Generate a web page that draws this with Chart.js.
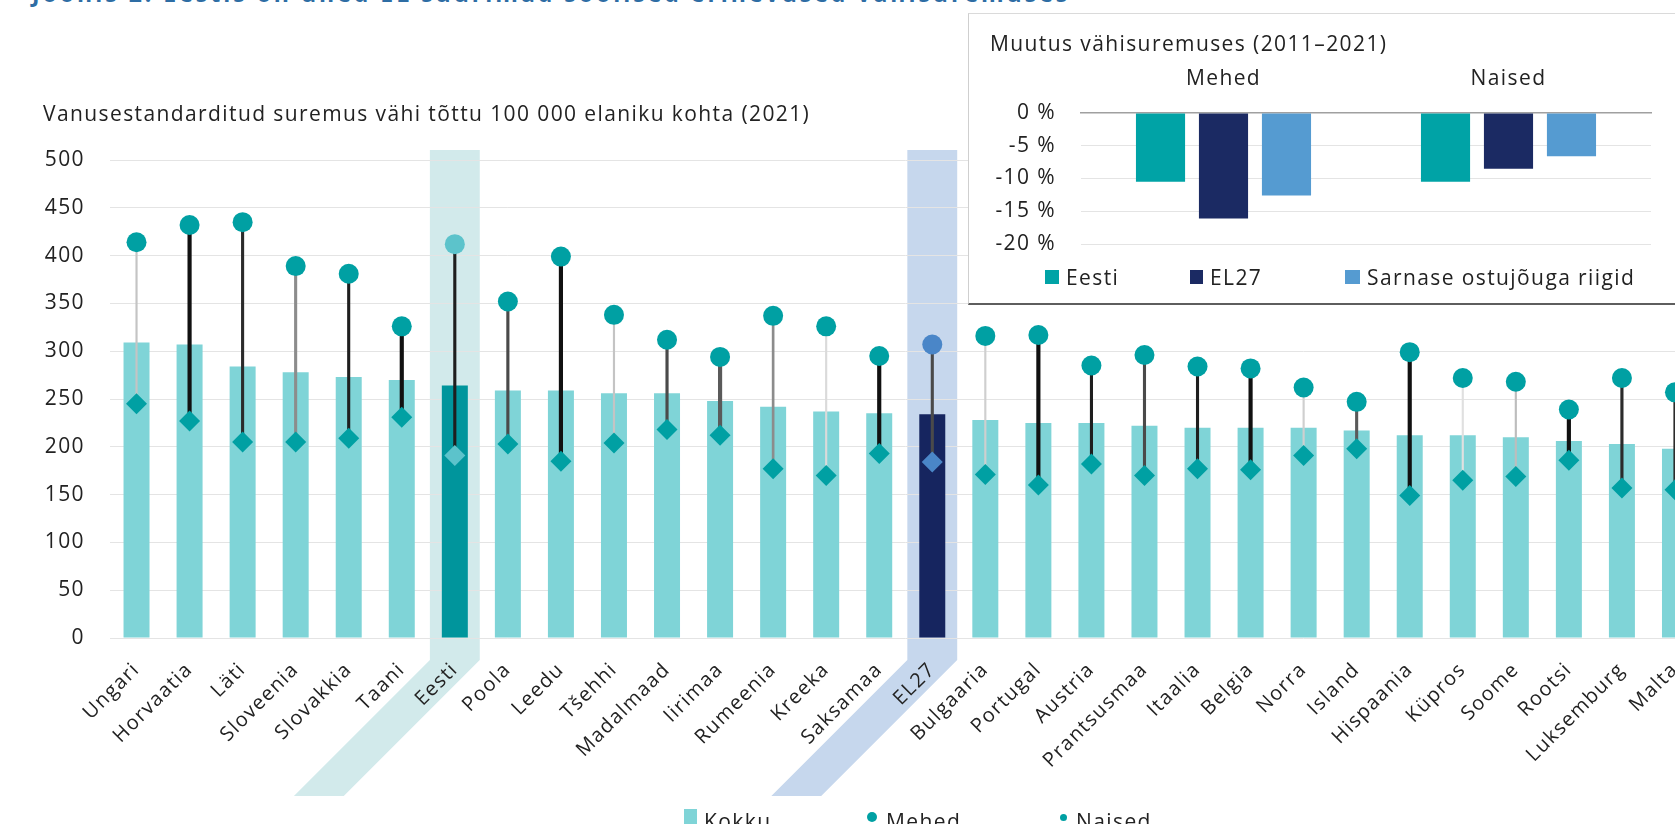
<!DOCTYPE html>
<html lang="et">
<head>
<meta charset="utf-8">
<title>Vähisuremus</title>
<script src="https://cdn.jsdelivr.net/npm/chart.js@4.4.0/dist/chart.umd.min.js"></script>
<style>
  html, body { margin: 0; padding: 0; background: #fff; overflow: hidden; }
  body { width: 1675px; height: 824px; position: relative; font-family: "Open Sans", sans-serif; }
  #pealkiri { position: absolute; left: 32px; top: -17px; font-size: 23px; line-height: 20px; font-weight: bold; color: #2e6da4; letter-spacing: 3px; white-space: nowrap; }
  #pohi { position: absolute; left: 0; top: 0; }
  #kast { position: absolute; left: 968px; top: 13px; width: 730px; height: 289px; background: #fff;
          border-left: 1px solid #cfcfcf; border-top: 1px solid #dadada; border-bottom: 2px solid #5e5e5e; }
  #kast canvas { position: absolute; left: 0; top: 0; }
  .legend { position: absolute; font-size: 21px; letter-spacing: 1.4px; color: #222; white-space: nowrap; }
  .legend span.mark { position: absolute; }
</style>
</head>
<body>
<div id="pealkiri">Joonis 2. Eestis on ühed EL suurimad soolised erinevused vähisuremuses</div>
<canvas id="pohi" width="1712" height="824"></canvas>
<div id="kast">
  <canvas id="muutus" width="730" height="289"></canvas>
</div>
<div id="legendid"></div>

<script>
// Vanusestandarditud suremus vähi tõttu 100 000 elaniku kohta (2021)
const maad = ['Ungari', 'Horvaatia', 'Läti', 'Sloveenia', 'Slovakkia', 'Taani', 'Eesti', 'Poola', 'Leedu', 'Tšehhi',
  'Madalmaad', 'Iirimaa', 'Rumeenia', 'Kreeka', 'Saksamaa', 'EL27', 'Bulgaaria', 'Portugal', 'Austria', 'Prantsusmaa',
  'Itaalia', 'Belgia', 'Norra', 'Island', 'Hispaania', 'Küpros', 'Soome', 'Rootsi', 'Luksemburg', 'Malta'];
const kokku = [309, 307, 284, 278, 273, 270, 264, 259, 259, 256, 256, 248, 242, 237, 235, 234, 228, 225, 225, 222,
  220, 220, 220, 217, 212, 212, 210, 206, 203, 198];
const mehed = [414, 432, 435, 389, 381, 326, 412, 352, 399, 338, 312, 294, 337, 326, 295, 307, 316, 317, 285, 296,
  284, 282, 262, 247, 299, 272, 268, 239, 272, 257];
const naised = [245, 227, 205, 205, 209, 231, 191, 203, 185, 204, 218, 212, 177, 170, 193, 184, 171, 160, 182, 170,
  177, 176, 191, 198, 149, 165, 169, 186, 157, 155];
const yTicks = [0, 50, 100, 150, 200, 250, 300, 350, 400, 450, 500];

// Muutus vähisuremuses (2011–2021), %
const muutusRuhmad = ['Mehed', 'Naised'];
const muutusEesti = [-10.5, -10.5];
const muutusEL27 = [-16.1, -8.5];
const muutusSarnased = [-12.6, -6.6];
const muutusTicks = [0, -5, -10, -15, -20];

// ühendusjoonte toon ja paksus (stiil, mitte andmed)
const jooneToon = ['#c4c4c4', '#111', '#2b2b2b', '#8c8c8c', '#1e1e1e', '#111', '#1e1e1e', '#4a4a4a', '#111', '#c4c4c4',
  '#4a4a4a', '#5a5a5a', '#8c8c8c', '#dadada', '#111', '#4a4a4a', '#cfcfcf', '#111', '#1e1e1e', '#4a4a4a',
  '#1e1e1e', '#111', '#cfcfcf', '#5a5a5a', '#111', '#e0e0e0', '#bdbdbd', '#111', '#2b2b2b', '#2b2b2b'];
const joonePaksus = [1.5, 3.5, 2.5, 2.5, 2.5, 3.5, 2.5, 2.5, 3.5, 1.5, 2.5, 3.5, 2, 1.5, 3.5, 2.5, 1.5, 3.5, 2.5, 2.5,
  2.5, 3.5, 1.5, 2.5, 3.5, 1.5, 1.5, 3.5, 2.5, 2.5];

const FONT = '"Open Sans", sans-serif';
const iEesti = maad.indexOf('Eesti');
const iEL = maad.indexOf('EL27');

const tulbaVarv = maad.map((m, i) => i === iEesti ? '#00959c' : (i === iEL ? '#16255f' : '#7fd4d7'));
const markeriVarv = maad.map((m, i) => i === iEesti ? '#5cc3cb' : (i === iEL ? '#4a86c8' : '#00a0a3'));

// tähevahe, et kiri oleks sama lai kui originaalis
const tahevahe = {
  id: 'tahevahe',
  beforeUpdate(chart) { chart.ctx.letterSpacing = '1.4px'; },
  beforeDraw(chart) { chart.ctx.letterSpacing = '1.4px'; }
};

// Eesti ja EL27 esiletõstmise ribad (ulatuvad allapoole kaldu nagu sildid)
const ribad = {
  id: 'ribad',
  beforeDraw(chart) {
    const x = chart.scales.x;
    const area = chart.chartArea;
    const ctx = chart.ctx;
    const samm = x.getPixelForValue(1) - x.getPixelForValue(0);
    const pool = samm * 0.47;
    const ylal = area.top - 10;
    const murd = area.bottom + 22;
    const kald = 136;
    [[iEesti, '#d2eaeb'], [iEL, '#c6d7ed']].forEach(([i, varv]) => {
      const c = x.getPixelForValue(i);
      ctx.save();
      ctx.fillStyle = varv;
      ctx.beginPath();
      ctx.moveTo(c - pool, ylal);
      ctx.lineTo(c + pool, ylal);
      ctx.lineTo(c + pool, murd);
      ctx.lineTo(c + pool - kald, murd + kald);
      ctx.lineTo(c - pool - kald, murd + kald);
      ctx.lineTo(c - pool, murd);
      ctx.closePath();
      ctx.fill();
      ctx.restore();
    });
  }
};

new Chart(document.getElementById('pohi'), {
  data: {
    labels: maad,
    datasets: [
      {
        type: 'line', label: 'Mehed', data: mehed, showLine: false, order: 0,
        pointStyle: 'circle', pointRadius: 10, pointHoverRadius: 10, borderWidth: 0,
        pointBackgroundColor: markeriVarv, pointBorderColor: markeriVarv
      },
      {
        type: 'line', label: 'Naised', data: naised, showLine: false, order: 0,
        pointStyle: 'rectRot', pointRadius: 10.5, pointHoverRadius: 10.5, borderWidth: 0,
        pointBackgroundColor: markeriVarv, pointBorderColor: markeriVarv
      },
      {
        type: 'bar', label: 'vahe', data: naised.map((n, i) => [n, mehed[i]]), order: 1,
        grouped: false, barThickness: 3.5, backgroundColor: jooneToon,
        borderColor: 'rgba(0,0,0,0)', borderSkipped: false,
        borderWidth: ctx => { const b = (3.5 - joonePaksus[ctx.dataIndex]) / 2; return { left: b, right: b, top: 0, bottom: 0 }; }
      },
      {
        type: 'bar', label: 'Kokku', data: kokku, order: 2, grouped: false,
        backgroundColor: tulbaVarv, barPercentage: 0.49, categoryPercentage: 1
      }
    ]
  },
  options: {
    responsive: false,
    animation: false,
    events: [],
    layout: { padding: { left: 43, right: 9, top: 0, bottom: 0 } },
    plugins: {
      legend: { display: false },
      tooltip: { enabled: false },
      title: {
        display: true, align: 'start', color: '#222',
        text: 'Vanusestandarditud suremus vähi tõttu 100 000 elaniku kohta (2021)',
        font: { family: FONT, size: 21, weight: 'normal' },
        padding: { top: 102.4, bottom: 32.4 }
      }
    },
    scales: {
      x: {
        offset: true,
        grid: { display: false },
        border: { display: false },
        ticks: {
          autoSkip: false, minRotation: 45, maxRotation: 45, padding: 12,
          color: '#222', font: { family: FONT, size: 20 }
        },
        afterFit(s) { s.height = 186; }
      },
      y: {
        min: 0, max: 500,
        afterBuildTicks(s) { s.ticks = yTicks.map(v => ({ value: v })); },
        grid: { color: '#e4e4e4', drawTicks: false },
        border: { display: false },
        ticks: { padding: 25, color: '#222', font: { family: FONT, size: 21 } },
        afterFit(s) { s.width = 67; }
      }
    }
  },
  plugins: [tahevahe, ribad]
});

new Chart(document.getElementById('muutus'), {
  type: 'bar',
  data: {
    labels: muutusRuhmad,
    datasets: [
      { label: 'Eesti', data: muutusEesti, backgroundColor: '#00a3a6' },
      { label: 'EL27', data: muutusEL27, backgroundColor: '#1b2a63' },
      { label: 'Sarnase ostujõuga riigid', data: muutusSarnased, backgroundColor: '#559bd1' }
    ]
  },
  options: {
    responsive: false,
    animation: false,
    events: [],
    layout: { padding: { left: 21, right: 48, top: 0, bottom: 59 } },
    datasets: { bar: { categoryPercentage: 0.663, barPercentage: 0.78 } },
    plugins: {
      legend: { display: false },
      tooltip: { enabled: false },
      title: {
        display: true, align: 'start', color: '#222',
        text: 'Muutus vähisuremuses (2011–2021)',
        font: { family: FONT, size: 21, weight: 'normal' },
        padding: { top: 18.4, bottom: 2 }
      }
    },
    scales: {
      x: {
        position: 'top',
        grid: { display: false },
        border: { display: true, color: '#a0a0a0', width: 1.5 },
        ticks: { padding: 13, color: '#222', font: { family: FONT, size: 21 } },
        afterFit(s) { s.height = 53.4; }
      },
      y: {
        min: -20, max: 0,
        afterBuildTicks(s) { s.ticks = muutusTicks.map(v => ({ value: v })); },
        grid: { color: ctx => ctx.tick && ctx.tick.value === 0 ? 'rgba(0,0,0,0)' : '#e4e4e4', drawTicks: false },
        border: { display: false },
        ticks: { padding: 25, color: '#222', font: { family: FONT, size: 21 }, callback: v => v + ' %' },
        afterFit(s) { s.width = 91; }
      }
    }
  },
  plugins: [tahevahe]
});

// legendid HTML-is: [vasak, märgi keskjoon, teksti nihe, tekst, märgi laius, märgi kõrgus, ümar, värv]
const legendid = [
  [684, 817, 4, 'Kokku', 13, 16, false, '#7fd4d7'],
  [867, 817, 4, 'Mehed', 10, 10, true, '#00a0a3'],
  [1060, 817, 4, 'Naised', 7, 7, true, '#00a0a3'],
  [1045, 277, 0, 'Eesti', 14, 14, false, '#00a3a6'],
  [1190, 277, 0, 'EL27', 13, 14, false, '#1b2a63'],
  [1345, 277, 0, 'Sarnase ostujõuga riigid', 15, 14, false, '#559bd1']
];
const konteiner = document.getElementById('legendid');
legendid.forEach(([x, y, nihe, tekst, w, h, ymar, varv]) => {
  const el = document.createElement('div');
  el.className = 'legend';
  el.style.left = x + 'px';
  el.style.top = (y - 20) + 'px';
  el.style.height = '40px';
  el.style.zIndex = 5;
  const mark = document.createElement('span');
  mark.className = 'mark';
  mark.style.left = '0px';
  mark.style.top = (20 - h / 2) + 'px';
  mark.style.width = w + 'px';
  mark.style.height = h + 'px';
  mark.style.background = varv;
  if (ymar) mark.style.borderRadius = '50%';
  const t = document.createElement('span');
  t.textContent = tekst;
  t.style.position = 'relative';
  t.style.top = nihe + 'px';
  t.style.marginLeft = (w + (ymar ? 9 : 7)) + 'px';
  t.style.lineHeight = '40px';
  el.appendChild(mark);
  el.appendChild(t);
  konteiner.appendChild(el);
});
</script>
</body>
</html>
